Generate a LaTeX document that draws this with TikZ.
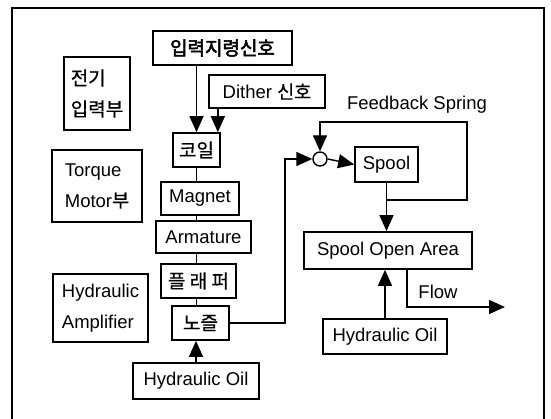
\documentclass[tikz,border=0pt]{standalone}
\usepackage{fontspec}
\setmainfont{Liberation Sans}
\newfontfamily\kr{Noto Sans CJK KR}[FakeBold=0.6]
\newfontfamily\krb{Noto Sans CJK KR}[FakeBold=2.5]
\usetikzlibrary{arrows.meta,positioning}

\begin{document}
\begin{tikzpicture}[x=1pt,y=-1pt,
  box/.style={draw,line width=1.7pt,inner sep=0pt,align=left},
  link/.style={line width=1.4pt},
  arr/.style={line width=1.4pt,-{Triangle[length=16pt,width=14pt]}},
  every node/.style={font=\fontsize{18.5}{31}\selectfont}]
\useasboundingbox (0,0) rectangle (551,419);

% outer frame (open at the bottom)
\draw[line width=1.7pt] (12,419) -- (12,8) -- (544,8) -- (544,419);

% left column: block names
\node[box,minimum width=66,minimum height=73] (elec) at (97,93.5) {\kr\fontsize{19}{33}\selectfont 전기\\\kr\fontsize{19}{33}\selectfont 입력부};
\node[box,minimum width=90,minimum height=72] (torque) at (97,186) {Torque\\Motor{\kr 부}};
\node[box,minimum width=95,minimum height=68] (hydamp) at (100.5,308) {Hydraulic\\Amplifier};

% signal chain
\node[box,minimum width=139,minimum height=34] (cmd) at (222.5,48) {\krb\fontsize{19}{20}\selectfont 입력지령신호};
\node[box,minimum width=116,minimum height=33] (dither) at (267,91.5) {Dither {\kr 신호}};
\node[box,minimum width=47,minimum height=34] (coil) at (196.5,150) {\kr\fontsize{19}{20}\selectfont 코일};
\node[box,minimum width=78,minimum height=33] (magnet) at (200,198.5) {Magnet};
\node[box,minimum width=95,minimum height=32] (armature) at (203.5,237) {Armature};
\node[box,minimum width=75,minimum height=34] (flapper) at (198.5,281) {\kr\fontsize{19}{20}\selectfont 플 래 퍼};
\node[box,minimum width=57,minimum height=34] (nozzle) at (200.5,323) {\kr\fontsize{19}{20}\selectfont 노즐};
\node[box,minimum width=126,minimum height=36] (oilL) at (196,381) {Hydraulic Oil};

% spool side
\node[draw,circle,line width=1.4pt,minimum size=14,inner sep=0pt] (sum) at (320,159) {};
\node[box,minimum width=63,minimum height=35] (spool) at (386.5,164.5) {Spool};
\node[box,minimum width=168,minimum height=37] (soa) at (388,250.5) {Spool Open Area};
\node[box,minimum width=124,minimum height=35] (oilR) at (385,336.5) {Hydraulic Oil};
\node (fblabel) at (417,105) {Feedback Spring};
\node (flowlabel) at (438,292) {Flow};
\coordinate (flowend) at (505,307);
\coordinate (fb) at (387,200);
\coordinate (dit) at ([xshift=-3pt]coil.north east);

% connectors
\draw[arr] (cmd.south -| coil.north) -- (coil.north);
\draw[arr] (dither.south -| dit) -- (dit);
\draw[link] (coil.south) -- (coil.south |- magnet.north);
\draw[link] (coil.south |- magnet.south) -- (coil.south |- armature.north);
\draw[link] (coil.south |- armature.south) -- (coil.south |- flapper.north);
\draw[link] (coil.south |- flapper.south) -- (coil.south |- nozzle.north);
\draw[arr] (oilL.north) -- (oilL.north |- nozzle.south);
\draw[arr] (nozzle.east) -- ++(55,0) |- (sum.west);
\draw[arr] (sum.east) -- (spool.west);
\draw[arr] (spool.south) -- (spool.south |- soa.north);
\draw[arr] (fb) -| (467,122) -| (sum.north);
\draw[arr] (oilR.north) -- (oilR.north |- soa.south);
\draw[arr] ([xshift=19pt]soa.south) |- (flowend);
\end{tikzpicture}
\end{document}
